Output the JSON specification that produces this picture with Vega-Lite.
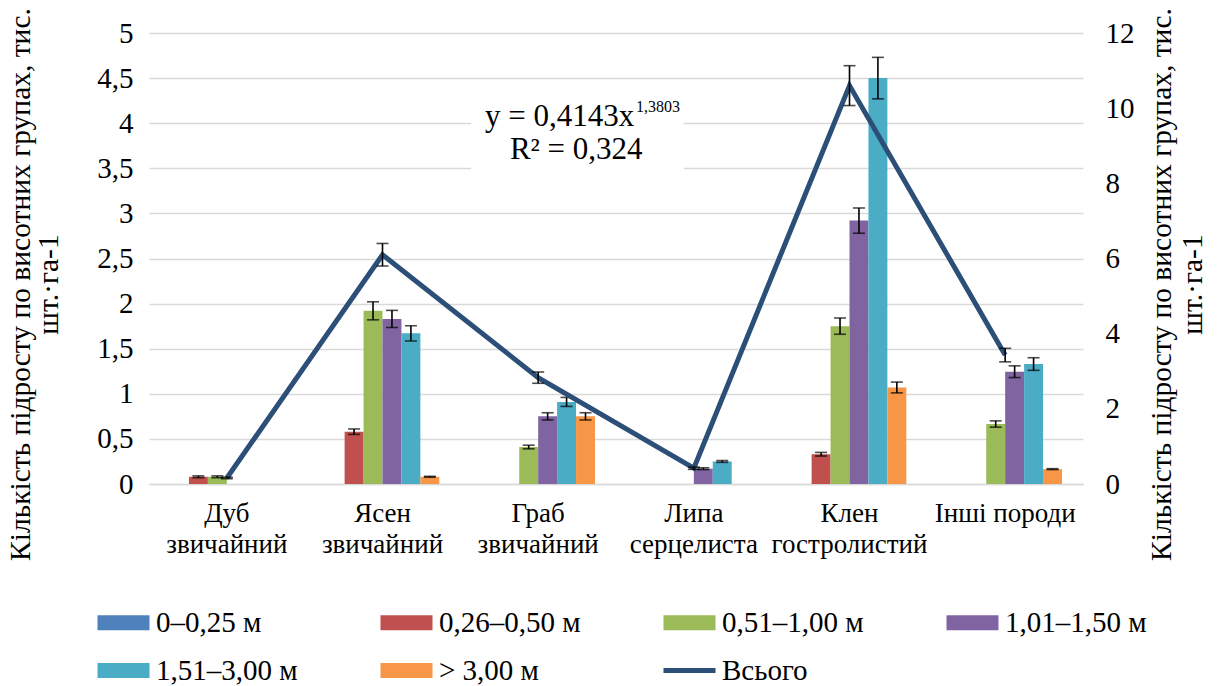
{
  "$schema": "https://vega.github.io/schema/vega-lite/v6.json",
  "width": 934,
  "height": 451,
  "autosize": {"type": "none"},
  "padding": {"left": 149, "top": 33, "right": 140, "bottom": 202},
  "background": "white",
  "config": {
    "font": "Liberation Serif, Times New Roman, serif",
    "view": {"stroke": null},
    "axis": {"labelFont": "Liberation Serif, Times New Roman, serif", "titleFont": "Liberation Serif, Times New Roman, serif", "labelColor": "black", "titleColor": "black", "titleFontWeight": "normal", "labelFontSize": 29, "titleFontSize": 29.5, "ticks": false},
    "legend": {"labelFont": "Liberation Serif, Times New Roman, serif"},
    "text": {"font": "Liberation Serif, Times New Roman, serif"}
  },
  "datasets": {
    "bars": [
      {"species": "Дуб звичайний", "group": "0–0,25 м", "value": 0, "err": 0},
      {"species": "Дуб звичайний", "group": "0,26–0,50 м", "value": 0.08, "err": 0.01},
      {"species": "Дуб звичайний", "group": "0,51–1,00 м", "value": 0.08, "err": 0.01},
      {"species": "Дуб звичайний", "group": "1,01–1,50 м", "value": 0, "err": 0},
      {"species": "Дуб звичайний", "group": "1,51–3,00 м", "value": 0, "err": 0},
      {"species": "Дуб звичайний", "group": "> 3,00 м", "value": 0, "err": 0},
      {"species": "Ясен звичайний", "group": "0–0,25 м", "value": 0, "err": 0},
      {"species": "Ясен звичайний", "group": "0,26–0,50 м", "value": 0.58, "err": 0.03},
      {"species": "Ясен звичайний", "group": "0,51–1,00 м", "value": 1.92, "err": 0.1},
      {"species": "Ясен звичайний", "group": "1,01–1,50 м", "value": 1.83, "err": 0.095},
      {"species": "Ясен звичайний", "group": "1,51–3,00 м", "value": 1.67, "err": 0.085},
      {"species": "Ясен звичайний", "group": "> 3,00 м", "value": 0.08, "err": 0.005},
      {"species": "Граб звичайний", "group": "0–0,25 м", "value": 0, "err": 0},
      {"species": "Граб звичайний", "group": "0,26–0,50 м", "value": 0, "err": 0},
      {"species": "Граб звичайний", "group": "0,51–1,00 м", "value": 0.41, "err": 0.02},
      {"species": "Граб звичайний", "group": "1,01–1,50 м", "value": 0.75, "err": 0.04},
      {"species": "Граб звичайний", "group": "1,51–3,00 м", "value": 0.91, "err": 0.05},
      {"species": "Граб звичайний", "group": "> 3,00 м", "value": 0.75, "err": 0.04},
      {"species": "Липа серцелиста", "group": "0–0,25 м", "value": 0, "err": 0},
      {"species": "Липа серцелиста", "group": "0,26–0,50 м", "value": 0, "err": 0},
      {"species": "Липа серцелиста", "group": "0,51–1,00 м", "value": 0, "err": 0},
      {"species": "Липа серцелиста", "group": "1,01–1,50 м", "value": 0.17, "err": 0.01},
      {"species": "Липа серцелиста", "group": "1,51–3,00 м", "value": 0.25, "err": 0.01},
      {"species": "Липа серцелиста", "group": "> 3,00 м", "value": 0, "err": 0},
      {"species": "Клен гостролистий", "group": "0–0,25 м", "value": 0, "err": 0},
      {"species": "Клен гостролистий", "group": "0,26–0,50 м", "value": 0.33, "err": 0.02},
      {"species": "Клен гостролистий", "group": "0,51–1,00 м", "value": 1.75, "err": 0.09},
      {"species": "Клен гостролистий", "group": "1,01–1,50 м", "value": 2.92, "err": 0.14},
      {"species": "Клен гостролистий", "group": "1,51–3,00 м", "value": 4.5, "err": 0.23},
      {"species": "Клен гостролистий", "group": "> 3,00 м", "value": 1.07, "err": 0.06},
      {"species": "Інші породи", "group": "0–0,25 м", "value": 0, "err": 0},
      {"species": "Інші породи", "group": "0,26–0,50 м", "value": 0, "err": 0},
      {"species": "Інші породи", "group": "0,51–1,00 м", "value": 0.665, "err": 0.035},
      {"species": "Інші породи", "group": "1,01–1,50 м", "value": 1.245, "err": 0.065},
      {"species": "Інші породи", "group": "1,51–3,00 м", "value": 1.33, "err": 0.07},
      {"species": "Інші породи", "group": "> 3,00 м", "value": 0.165, "err": 0.005}
    ],
    "totals": [
      {"species": "Дуб звичайний", "total": 0.16, "err": 0.02},
      {"species": "Ясен звичайний", "total": 6.1, "err": 0.3},
      {"species": "Граб звичайний", "total": 2.83, "err": 0.15},
      {"species": "Липа серцелиста", "total": 0.42, "err": 0.03},
      {"species": "Клен гостролистий", "total": 10.6, "err": 0.53},
      {"species": "Інші породи", "total": 3.43, "err": 0.18}
    ]
  },
  "layer": [
    {
      "layer": [
        {
          "data": {"name": "bars"},
          "mark": {"type": "bar"},
          "encoding": {
            "x": {
              "field": "species", "type": "nominal", "sort": null,
              "scale": {"paddingInner": 0.27, "paddingOuter": 0.135},
              "axis": {
                "title": null, "labelAngle": 0, "domain": true, "domainColor": "#D9D9D9", "domainWidth": 1.5,
                "labelExpr": "datum.label == 'Інші породи' ? datum.label : split(datum.label, ' ')",
                "labelFontSize": 27, "labelLineHeight": 31, "labelPadding": 16, "labelLimit": 300
              }
            },
            "xOffset": {
              "field": "group", "type": "nominal",
              "scale": {"domain": ["0–0,25 м", "0,26–0,50 м", "0,51–1,00 м", "1,01–1,50 м", "1,51–3,00 м", "> 3,00 м"], "paddingInner": 0, "paddingOuter": 0}
            },
            "y": {
              "field": "value", "type": "quantitative",
              "title": ["Кількість підросту  по висотних групах, тис.", "шт.·га-1"],
              "scale": {"domain": [0, 5], "nice": false},
              "axis": {
                "values": [0, 0.5, 1, 1.5, 2, 2.5, 3, 3.5, 4, 4.5, 5],
                "labelExpr": "replace(format(datum.value, '~g'), '.', ',')",
                "grid": true, "gridColor": "#D9D9D9", "gridWidth": 1.5,
                "domain": false, "labelPadding": 16, "titleLineHeight": 28,
                "titleAngle": 270, "titleBaseline": "bottom", "titleX": -114, "titleY": 251, "titleAlign": "center"
              }
            },
            "color": {
              "field": "group", "type": "nominal",
              "scale": {
                "domain": ["0–0,25 м", "0,26–0,50 м", "0,51–1,00 м", "1,01–1,50 м", "1,51–3,00 м", "> 3,00 м", "Всього"],
                "range": ["#4F81BD", "#C0504D", "#9BBB59", "#8064A2", "#4BACC6", "#F79646", "#2C4F78"]
              },
              "legend": {
                "orient": "none", "legendX": -40, "legendY": 575, "columns": 4, "direction": "horizontal",
                "title": null, "labelFontSize": 29, "labelColor": "black", "labelLimit": 400,
                "symbolSize": 676, "symbolType": "M-2,-0.58H2V0.58H-2Z", "symbolOpacity": 1,
                "gridAlign": "all", "columnPadding": 82, "rowPadding": 18, "labelOffset": 18, "padding": 0,
                "encode": {
                  "symbols": {
                    "update": {
                      "shape": {"signal": "datum.value === 'Всього' ? 'M-2,-0.2H2V0.2H-2Z' : 'M-2,-0.58H2V0.58H-2Z'"},
                      "fill": {"signal": "scale('color', datum.value)"},
                      "strokeWidth": {"value": 0}
                    }
                  }
                }
              }
            }
          }
        },
        {
          "data": {"name": "bars"},
          "transform": [{"filter": "datum.err > 0"}],
          "mark": {"type": "errorbar", "ticks": {"size": 12}, "color": "black", "thickness": 1.6},
          "encoding": {
            "x": {"field": "species", "type": "nominal", "sort": null},
            "xOffset": {"field": "group", "type": "nominal"},
            "y": {"field": "value", "type": "quantitative", "title": ["Кількість підросту  по висотних групах, тис.", "шт.·га-1"]},
            "yError": {"field": "err"}
          }
        },
        {
          "data": {"values": [{}]},
          "mark": {"type": "rect", "color": "white"},
          "encoding": {
            "x": {"datum": "Граб звичайний", "bandPosition": -0.09},
            "x2": {"datum": "Липа серцелиста", "bandPosition": 0.41},
            "y": {"datum": 4.28, "title": ["Кількість підросту  по висотних групах, тис.", "шт.·га-1"]},
            "y2": {"datum": 3.46}
          }
        },
        {
          "data": {"values": [{}]},
          "mark": {"type": "text", "fontSize": 31, "align": "right", "baseline": "alphabetic", "color": "black", "text": "y = 0,4143x"},
          "encoding": {
            "x": {"datum": "Граб звичайний", "bandPosition": 1.345},
            "y": {"datum": 3.97, "title": ["Кількість підросту  по висотних групах, тис.", "шт.·га-1"]}
          }
        },
        {
          "data": {"values": [{}]},
          "mark": {"type": "text", "fontSize": 16, "align": "left", "baseline": "alphabetic", "color": "black", "text": "1,3803"},
          "encoding": {
            "x": {"datum": "Граб звичайний", "bandPosition": 1.36},
            "y": {"datum": 4.12, "title": ["Кількість підросту  по висотних групах, тис.", "шт.·га-1"]}
          }
        },
        {
          "data": {"values": [{}]},
          "mark": {"type": "text", "fontSize": 31, "align": "center", "baseline": "alphabetic", "color": "black", "text": "R² = 0,324"},
          "encoding": {
            "x": {"datum": "Граб звичайний", "bandPosition": 0.835},
            "y": {"datum": 3.6, "title": ["Кількість підросту  по висотних групах, тис.", "шт.·га-1"]}
          }
        }
      ]
    },
    {
      "data": {"name": "totals"},
      "layer": [
        {
          "mark": {"type": "line", "strokeWidth": 5},
          "encoding": {
            "x": {"field": "species", "type": "nominal", "sort": null},
            "y": {
              "field": "total", "type": "quantitative",
              "title": ["Кількість підросту по висотних групах, тис.", "шт.·га-1"],
              "scale": {"domain": [0, 12], "nice": false},
              "axis": {
                "orient": "right",
                "values": [0, 2, 4, 6, 8, 10, 12],
                "grid": false, "domain": false, "labelPadding": 22, "titleLineHeight": 31,
                "titleAngle": 270, "titleBaseline": "bottom", "titleX": 93, "titleY": 251, "titleAlign": "center"
              }
            },
            "color": {"datum": "Всього"}
          }
        },
        {
          "mark": {"type": "errorbar", "ticks": {"size": 12}, "color": "black", "thickness": 1.6},
          "encoding": {
            "x": {"field": "species", "type": "nominal", "sort": null},
            "y": {"field": "total", "type": "quantitative", "title": ["Кількість підросту по висотних групах, тис.", "шт.·га-1"]},
            "yError": {"field": "err"}
          }
        }
      ]
    }
  ],
  "resolve": {"scale": {"y": "independent"}}
}
